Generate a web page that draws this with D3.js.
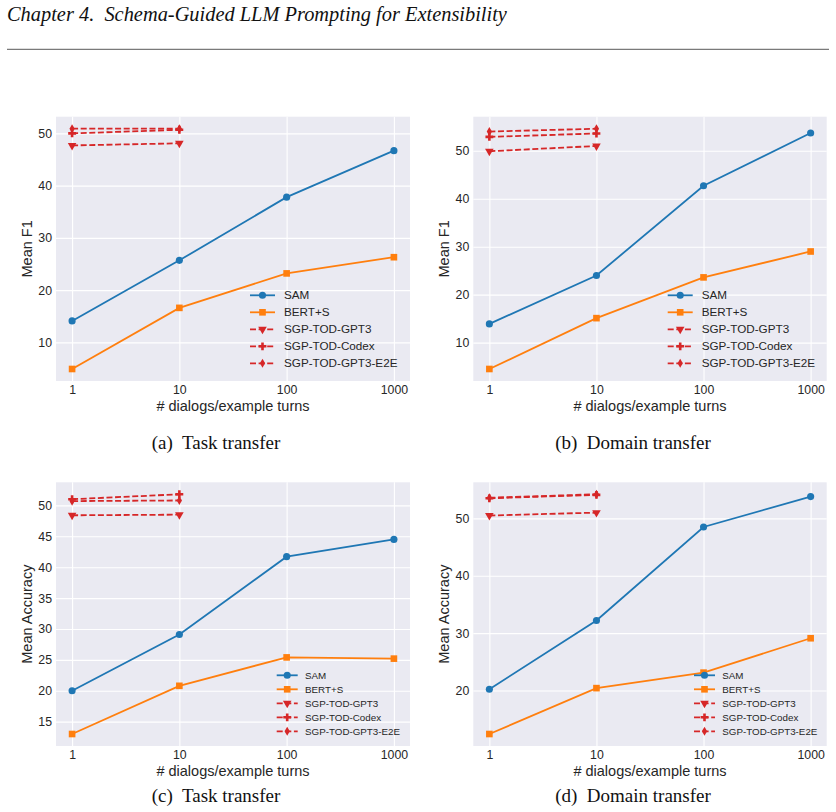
<!DOCTYPE html>
<meta charset="utf-8">
<script src="https://d3js.org/d3.v7.min.js"></script>
<style>
  body { margin: 0; background: #fff; }
  svg text { font-family: "Liberation Sans", Arial, sans-serif; fill: #262626; }
  svg text.serif { font-family: "Liberation Serif", "Times New Roman", serif; fill: #111; white-space: pre; }
</style>
<div id="chart"></div>
<script>

// x positions (number of dialogs / example turns)
const xValues = [1, 10, 100, 1000];
const xValuesFewShot = [1, 10];
const xTickLabels = ["1", "10", "100", "1000"];

const seriesNames = ["SAM", "BERT+S", "SGP-TOD-GPT3", "SGP-TOD-Codex", "SGP-TOD-GPT3-E2E"];

// (a) task transfer, mean F1
const samTaskF1 = [14.1, 25.7, 37.8, 46.7];
const bertTaskF1 = [4.9, 16.6, 23.2, 26.3];
const gpt3TaskF1 = [47.7, 48.1];
const codexTaskF1 = [50.0, 50.7];
const e2eTaskF1 = [50.9, 50.9];

// (b) domain transfer, mean F1
const samDomainF1 = [13.9, 24.0, 42.7, 53.7];
const bertDomainF1 = [4.5, 15.1, 23.6, 29.0];
const gpt3DomainF1 = [49.9, 51.0];
const codexDomainF1 = [52.9, 53.6];
const e2eDomainF1 = [54.0, 54.6];

// (c) task transfer, mean accuracy
const samTaskAcc = [20.0, 29.1, 41.7, 44.5];
const bertTaskAcc = [13.0, 20.8, 25.4, 25.2];
const gpt3TaskAcc = [48.4, 48.5];
const codexTaskAcc = [51.0, 51.8];
const e2eTaskAcc = [50.7, 50.8];

// (d) domain transfer, mean accuracy
const samDomainAcc = [20.2, 32.2, 48.5, 53.8];
const bertDomainAcc = [12.4, 20.4, 23.1, 29.1];
const gpt3DomainAcc = [50.5, 51.0];
const codexDomainAcc = [53.5, 54.1];
const e2eDomainAcc = [53.6, 54.2];

// y tick labels
const yTicksF1 = [10, 20, 30, 40, 50];
const yTicksTaskAcc = [15, 20, 25, 30, 35, 40, 45, 50];
const yTicksDomainAcc = [20, 30, 40, 50];

const headerText = "Chapter 4.  Schema-Guided LLM Prompting for Extensibility";

// series styles
const colors = ["#1f77b4", "#ff7f0e", "#d62728", "#d62728", "#d62728"];
const dashed = [false, false, true, true, true];

const panels = [
  { caption: "(a)  Task transfer", ylabel: "Mean F1", yTicks: yTicksF1,
    series: [samTaskF1, bertTaskF1, gpt3TaskF1, codexTaskF1, e2eTaskF1],
    box: { left: 56, top: 116.7, width: 354, height: 264.3 }, captionY: 449,
    legend: { font: 11.7, row: 17, handle: 25, gap: 9, fromRight: 126, lastRow: 363.3 } },
  { caption: "(b)  Domain transfer", ylabel: "Mean F1", yTicks: yTicksF1,
    series: [samDomainF1, bertDomainF1, gpt3DomainF1, codexDomainF1, e2eDomainF1],
    box: { left: 473.3, top: 116.7, width: 353.4, height: 264.3 }, captionY: 449,
    legend: { font: 11.7, row: 17, handle: 25, gap: 9, fromRight: 125, lastRow: 363.3 } },
  { caption: "(c)  Task transfer", ylabel: "Mean Accuracy", yTicks: yTicksTaskAcc,
    series: [samTaskAcc, bertTaskAcc, gpt3TaskAcc, codexTaskAcc, e2eTaskAcc],
    box: { left: 56, top: 482.3, width: 354, height: 263.7 }, captionY: 802,
    legend: { font: 9.8, row: 14, handle: 21, gap: 7.3, fromRight: 105, lastRow: 731.3 } },
  { caption: "(d)  Domain transfer", ylabel: "Mean Accuracy", yTicks: yTicksDomainAcc,
    series: [samDomainAcc, bertDomainAcc, gpt3DomainAcc, codexDomainAcc, e2eDomainAcc],
    box: { left: 473.3, top: 482.3, width: 353.4, height: 263.7 }, captionY: 802,
    legend: { font: 9.8, row: 14, handle: 21, gap: 7.3, fromRight: 104.4, lastRow: 731.3 } }
];

const svg = d3.select("#chart")
  .append("svg")
    .attr("width", 836)
    .attr("height", 812);

// page header
svg.append("text")
  .attr("class", "serif")
  .attr("x", 7)
  .attr("y", 21)
  .style("font-style", "italic")
  .style("font-size", "20.4px")
  .text(headerText);
svg.append("line")
  .attr("x1", 7).attr("x2", 829)
  .attr("y1", 49.3).attr("y2", 49.3)
  .attr("stroke", "#7a7a7a")
  .attr("stroke-width", 1.2);

function markerPath(i) {
  const types = [d3.symbolCircle, d3.symbolSquare, d3.symbolTriangle, d3.symbolCross, d3.symbolDiamond];
  const sizes = [40, 44, 32, 34, 24];
  return d3.symbol().type(types[i]).size(sizes[i])();
}
// triangle must point down
function markerTransform(i, x, y) {
  return `translate(${x},${y})` + (i === 2 ? " rotate(180)" : "");
}

panels.forEach(p => {
  const b = p.box;
  const g = svg.append("g").attr("transform", `translate(${b.left},${b.top})`);

  // log x axis with matplotlib-like 5% margins (in decades)
  const x = d3.scaleLog()
    .domain([Math.pow(10, -0.15), Math.pow(10, 3.15)])
    .range([0, b.width]);

  const all = p.series.flat();
  const [lo, hi] = d3.extent(all);
  const pad = (hi - lo) * 0.05;
  const y = d3.scaleLinear()
    .domain([lo - pad, hi + pad])
    .range([b.height, 0]);

  // background
  g.append("rect")
    .attr("width", b.width)
    .attr("height", b.height)
    .attr("fill", "#eaeaf2");

  // grid
  g.append("g")
    .attr("transform", `translate(0,${b.height})`)
    .call(d3.axisBottom(x).tickValues(xValues).tickSize(-b.height).tickFormat((d, i) => xTickLabels[i]))
    .call(a => a.select(".domain").remove())
    .call(a => a.selectAll("line").attr("stroke", "#fff").attr("stroke-width", 1.1))
    .call(a => a.selectAll("text").attr("dy", "0.71em").attr("y", 4).style("font-size", "12.3px").attr("fill", "#262626"));

  g.append("g")
    .call(d3.axisLeft(y).tickValues(p.yTicks).tickSize(-b.width))
    .call(a => a.select(".domain").remove())
    .call(a => a.selectAll("line").attr("stroke", "#fff").attr("stroke-width", 1.1))
    .call(a => a.selectAll("text").attr("x", -4).style("font-size", "12.3px").attr("fill", "#262626"));

  // axis labels
  g.append("text")
    .attr("x", b.width / 2)
    .attr("y", b.height + 30)
    .attr("text-anchor", "middle")
    .style("font-size", "14.5px")
    .text("# dialogs/example turns");
  g.append("text")
    .attr("transform", `translate(${-24},${b.height / 2}) rotate(-90)`)
    .attr("text-anchor", "middle")
    .style("font-size", "14.5px")
    .text(p.ylabel);

  // lines and markers
  p.series.forEach((vals, i) => {
    const xs = vals.length === 4 ? xValues : xValuesFewShot;
    const pts = vals.map((v, j) => [xs[j], v]);
    g.append("path")
      .datum(pts)
      .attr("fill", "none")
      .attr("stroke", colors[i])
      .attr("stroke-width", 1.8)
      .attr("stroke-dasharray", dashed[i] ? "6,2.6" : null)
      .attr("d", d3.line().x(d => x(d[0])).y(d => y(d[1])));
    g.selectAll(null)
      .data(pts)
      .join("path")
        .attr("d", markerPath(i))
        .attr("transform", d => markerTransform(i, x(d[0]), y(d[1])))
        .attr("fill", colors[i]);
  });

  // legend (no frame)
  const L = p.legend;
  const lx = b.width - L.fromRight - L.gap - L.handle;
  seriesNames.forEach((name, i) => {
    const ly = L.lastRow - b.top - (seriesNames.length - 1 - i) * L.row;
    g.append("line")
      .attr("x1", lx).attr("x2", lx + L.handle)
      .attr("y1", ly).attr("y2", ly)
      .attr("stroke", colors[i])
      .attr("stroke-width", 1.8)
      .attr("stroke-dasharray", dashed[i] ? "6,2.6" : null);
    g.append("path")
      .attr("d", markerPath(i))
      .attr("transform", markerTransform(i, lx + L.handle / 2, ly))
      .attr("fill", colors[i]);
    g.append("text")
      .attr("x", lx + L.handle + L.gap)
      .attr("y", ly)
      .attr("dy", "0.35em")
      .style("font-size", L.font + "px")
      .text(name);
  });

  // caption under the panel (centred on the whole subfigure, y label included)
  svg.append("text")
    .attr("class", "serif")
    .attr("x", b.left + b.width / 2 - 17)
    .attr("y", p.captionY)
    .attr("text-anchor", "middle")
    .style("font-size", "19px")
    .text(p.caption);
});

</script>
